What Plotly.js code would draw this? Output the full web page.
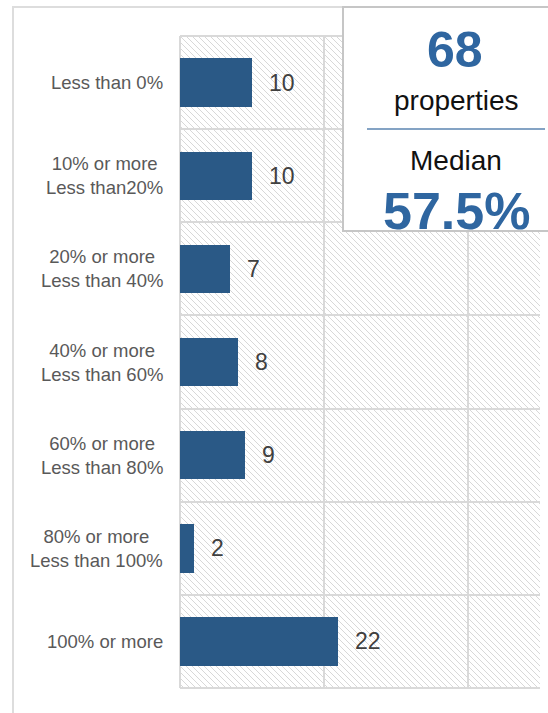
<!DOCTYPE html>
<html>
<head>
<meta charset="utf-8">
<script src="https://cdn.plot.ly/plotly-3.0.1.min.js"></script>
<style>html,body{margin:0;padding:0;background:#fff;}#chart{width:548px;height:713px;}</style>
</head>
<body>
<div id="chart"></div>
<script>
// ---- data ----
const categories = [
  'Less than 0%',
  '10% or more<br>Less than20%',
  '20% or more<br>Less than 40%',
  '40% or more<br>Less than 60%',
  '60% or more<br>Less than 80%',
  '80% or more<br>Less than 100%',
  '100% or more'
];
const counts = [10, 10, 7, 8, 9, 2, 22];
const totalProperties = '68';
const totalLabel = 'properties';
const medianLabel = 'Median';
const medianValue = '57.5%';
const xMax = 50;
const xStep = 20;

// ---- styling ----
const FONT = 'Liberation Sans, Arial, sans-serif';
const BAR = '#2a5986';
const GRID = '#d9d9d9';
const BLUE = '#2f66a0';

const idx = categories.map((_, i) => i);

const bars = {
  type: 'bar', orientation: 'h',
  y: idx, x: counts, width: 0.52,
  marker: { color: BAR, line: { width: 0 } },
  hoverinfo: 'skip'
};

// hatch background image (plot area)
const hatchSvg =
  '<svg xmlns="http://www.w3.org/2000/svg" width="360" height="652" preserveAspectRatio="none">' +
  '<defs><pattern id="h" width="6" height="6" patternUnits="userSpaceOnUse">' +
  '<rect width="6" height="6" fill="#ffffff"/>' +
  '<path d="M-1,-1 L7,7 M5,-1 L7,1 M-1,5 L1,7" stroke="#d8d8d8" stroke-width="1"/>' +
  '</pattern></defs><rect width="100%" height="100%" fill="url(#h)"/></svg>';
const hatchSrc = 'data:image/svg+xml;charset=utf-8,' + encodeURIComponent(hatchSvg);

const annotations = [];
categories.forEach((c, i) => {
  annotations.push({
    xref: 'paper', yref: 'y', x: -0.042, y: i,
    xanchor: 'right', yanchor: 'middle', align: 'center',
    text: c, showarrow: false,
    font: { family: FONT, size: 18.5, color: '#595959' }
  });
  annotations.push({
    xref: 'x', yref: 'y', x: counts[i], y: i,
    xanchor: 'left', yanchor: 'middle', xshift: 15,
    text: String(counts[i]), showarrow: false,
    font: { family: FONT, size: 23, color: '#404040' }
  });
});
annotations.push(
  { xref: 'paper', yref: 'paper', x: 0.7639, y: 0.979, xanchor: 'center', yanchor: 'middle',
    text: '<b>' + totalProperties + '</b>', showarrow: false,
    font: { family: FONT, size: 50, color: BLUE } },
  { xref: 'paper', yref: 'paper', x: 0.7681, y: 0.9018, xanchor: 'center', yanchor: 'middle',
    text: totalLabel, showarrow: false,
    font: { family: FONT, size: 28, color: '#111111' } },
  { xref: 'paper', yref: 'paper', x: 0.7653, y: 0.8098, xanchor: 'center', yanchor: 'middle',
    text: medianLabel, showarrow: false,
    font: { family: FONT, size: 28, color: '#111111' } },
  { xref: 'paper', yref: 'paper', x: 0.7667, y: 0.732, xanchor: 'center', yanchor: 'middle',
    text: '<b>' + medianValue + '</b>', showarrow: false,
    font: { family: FONT, size: 52, color: BLUE } }
);

const boundaries = [];
for (let i = 0; i <= categories.length; i++) boundaries.push(i - 0.5);

const shapes = [
  // outer frame
  { type: 'rect', xref: 'paper', yref: 'paper', x0: -0.4639, x1: 1.3, y0: -0.3, y1: 1.0445,
    line: { color: '#dddddd', width: 2 }, fillcolor: 'rgba(0,0,0,0)', layer: 'below' },
  // plot frame: top, bottom, left
  { type: 'line', xref: 'paper', yref: 'paper', x0: 0, x1: 1, y0: 1, y1: 1,
    line: { color: GRID, width: 2 }, layer: 'between' },
  { type: 'line', xref: 'paper', yref: 'paper', x0: 0, x1: 1, y0: 0, y1: 0,
    line: { color: GRID, width: 2 }, layer: 'between' },
  { type: 'line', xref: 'paper', yref: 'paper', x0: 0, x1: 0, y0: 0, y1: 1,
    line: { color: GRID, width: 2 }, layer: 'between' },
  // summary box
  { type: 'rect', xref: 'paper', yref: 'paper', x0: 0.4528, x1: 1.1, y0: 0.7009, y1: 1.0445,
    line: { color: '#c6c6c6', width: 2 }, fillcolor: '#ffffff', layer: 'above' },
  // separator line
  { type: 'line', xref: 'paper', yref: 'paper', x0: 0.5194, x1: 1.0139, y0: 0.8574, y1: 0.8574,
    line: { color: '#5b84b1', width: 1.5 }, layer: 'above' }
];

const layout = {
  width: 548, height: 713,
  margin: { l: 180, r: 8, t: 36, b: 25 },
  paper_bgcolor: '#ffffff',
  plot_bgcolor: 'rgba(0,0,0,0)',
  showlegend: false,
  xaxis: {
    range: [0, xMax], tick0: 0, dtick: xStep,
    showgrid: true, gridcolor: GRID, gridwidth: 2,
    zeroline: false, showticklabels: false, ticks: '',
    showline: false, fixedrange: true
  },
  yaxis: {
    range: [categories.length - 0.5, -0.5],
    showgrid: false, zeroline: false, showticklabels: false, ticks: '',
    minor: { tickmode: 'array', tickvals: boundaries, showgrid: true, gridcolor: GRID, gridwidth: 2, ticks: '' },
    fixedrange: true
  },
  images: [{
    source: hatchSrc, xref: 'paper', yref: 'paper',
    x: 0, y: 1, sizex: 1, sizey: 1, sizing: 'stretch',
    xanchor: 'left', yanchor: 'top', layer: 'below'
  }],
  shapes: shapes,
  annotations: annotations,
  bargap: 0
};

Plotly.newPlot('chart', [bars], layout, { displayModeBar: false, staticPlot: true });
</script>
</body>
</html>
